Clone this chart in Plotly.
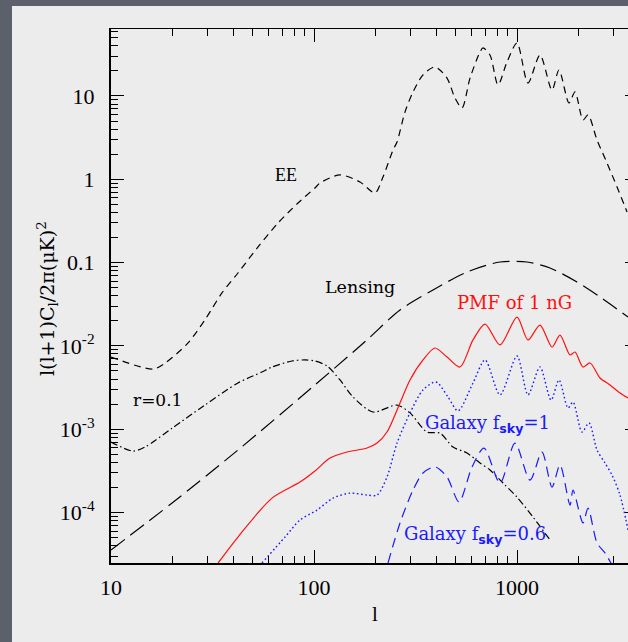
import plotly.graph_objects as go

# ---------------- data ----------------
ee_l = [10, 16.1, 18.5, 23.9, 29.0, 35.2, 42.2, 53.0, 66.5, 83.4, 101.1, 107.1, 134.3, 168.5,
        199.8, 218.7, 245.1, 256.5, 280.8, 307.5, 344.4, 394.5, 452.1, 494.9, 535.9, 586.9,
        657.4, 680.2, 736.2, 806.2, 892.9, 1000, 1133, 1298, 1487, 1610, 1804, 1931, 2115,
        2238, 2479, 2776, 3110, 3484]
ee_c = [7.36e-3, 5.28e-3, 6.24e-3, 1.08e-2, 2.05e-2, 4.32e-2, 7.50e-2, 0.154, 0.299, 0.519,
        0.787, 0.904, 1.127, 0.929, 0.685, 1.067, 2.249, 2.805, 6.43, 11.17, 17.9, 22.3, 16.4,
        9.46, 7.18, 16.4, 33.7, 37.7, 31.0, 13.6, 25.6, 43.3, 14.3, 31.0, 11.8, 20.5, 8.24,
        11.2, 5.15, 5.92, 2.96, 1.57, 0.809, 0.405]

lens_l = [10, 20.0, 42.2, 101.1, 182.4, 265.3, 385.7, 567.2, 824.8, 1120, 1454, 1975, 2565, 3524]
lens_c = [3.55e-5, 1.30e-4, 5.62e-4, 3.40e-3, 1.18e-2, 2.70e-2, 4.69e-2, 7.71e-2, 0.1016,
          0.1016, 0.0861, 0.0585, 0.0386, 0.0222]

bb_l = [10, 12.8, 14.7, 20.0, 29.0, 42.2, 55.4, 62.1, 77.9, 90.3, 101.1, 115.9, 134.3, 155.6,
        195.3, 256.5, 297.2, 360.4, 417.6, 483.8, 567.2, 657.4, 736.2, 853.2, 1000, 1199, 1454]
bb_c = [7.02e-4, 5.47e-4, 6.11e-4, 1.03e-3, 1.95e-3, 3.59e-3, 4.86e-3, 5.58e-3, 6.59e-3,
        6.78e-3, 6.59e-3, 5.74e-3, 3.90e-3, 2.44e-3, 1.61e-3, 1.95e-3, 1.57e-3, 9.25e-4,
        8.99e-4, 6.11e-4, 5.18e-4, 3.93e-4, 3.24e-4, 2.26e-4, 1.53e-4, 8.83e-5, 4.68e-5]

pmf_l = [33.7, 42.2, 62.1, 85.3, 101.1, 119.9, 145.4, 182.4, 204.4, 228.9, 265.3, 297.2, 344.4,
         394.5, 452.1, 523.9, 607.2, 696, 824.8, 1000, 1133, 1298, 1487, 1629, 1825, 1931,
         2115, 2290, 2565, 2873, 3217, 3524]
pmf_c = [2.48e-5, 5.08e-5, 1.49e-4, 2.32e-4, 3.15e-4, 4.51e-4, 5.32e-4, 5.94e-4, 6.82e-4,
         9.25e-4, 2.07e-3, 3.90e-3, 6.78e-3, 9.44e-3, 7.36e-3, 5.58e-3, 1.18e-2, 1.83e-2,
         1.03e-2, 2.22e-2, 1.18e-2, 1.78e-2, 9.70e-3, 1.35e-2, 7.78e-3, 8.45e-3, 5.58e-3,
         6.24e-3, 4.12e-3, 3.40e-3, 2.72e-3, 2.37e-3]

gal1_l = [55.4, 72.0, 85.3, 103.5, 124.1, 150.4, 182.4, 204.4, 228.9, 256.5, 297.2, 344.4,
          399.0, 457.2, 512.1, 607.2, 696, 824.8, 1000, 1133, 1298, 1471, 1610, 1784, 1888,
          2091, 2264, 2479, 2714, 2938, 3217, 3524]
gal1_c = [2.48e-5, 5.08e-5, 8.13e-5, 1.07e-4, 1.49e-4, 1.71e-4, 1.62e-4, 1.62e-4, 2.67e-4,
          6.82e-4, 1.57e-3, 2.96e-3, 3.69e-3, 2.44e-3, 1.66e-3, 3.59e-3, 6.78e-3, 2.58e-3,
          7.57e-3, 2.58e-3, 5.58e-3, 2.24e-3, 3.90e-3, 1.80e-3, 2.12e-3, 9.25e-4, 1.19e-3,
          5.62e-4, 3.93e-4, 2.82e-4, 1.62e-4, 6.17e-5]

gal06_l = [231.5, 265.3, 307.5, 344.4, 394.5, 452.1, 518.0, 600.3, 688, 824.8, 977.5, 1159,
           1328, 1487, 1629, 1825, 1888, 2115, 2238, 2479, 2714, 2938]
gal06_c = [2.48e-5, 7.48e-5, 1.86e-4, 2.98e-4, 3.52e-4, 2.67e-4, 1.34e-4, 3.52e-4, 5.94e-4,
           2.26e-4, 6.82e-4, 2.45e-4, 5.32e-4, 2.02e-4, 3.72e-4, 1.23e-4, 1.86e-4, 7.48e-5,
           1.13e-4, 4.31e-5, 3.27e-5, 2.34e-5]

x_ticks = [10, 100, 1000]
x_ticktext = ["10", "100", "1000"]
y_ticks = [1e-4, 1e-3, 1e-2, 0.1, 1, 10]
y_ticktext = ["10<sup>-4</sup>", "10<sup>-3</sup>", "10<sup>-2</sup>", "0.1", "1", "10"]

x_minor = [m * d for d in (10, 100, 1000) for m in range(2, 10) if m * d < 3600]
y_minor = [m * d for d in (1e-5, 1e-4, 1e-3, 1e-2, 0.1, 1, 10) for m in range(2, 10)
           if 2.5e-5 < m * d < 63]

# ---------------- figure ----------------
SERIF = "Liberation Serif, Times New Roman, serif"
WSERIF = "DejaVu Serif, serif"
BLACK = "#000000"
RED = "#ff1010"
BLUE = "#1a1aff"

fig = go.Figure()

def add_curve(xs, ys, color, dash, width=1.2):
    fig.add_trace(go.Scatter(x=xs, y=ys, mode="lines",
                             line=dict(color=color, dash=dash, width=width,
                                       shape="spline", smoothing=0.8),
                             showlegend=False, hoverinfo="skip"))

add_curve(ee_l, ee_c, BLACK, "7px,5px")
add_curve(lens_l, lens_c, BLACK, "17px,7px")
add_curve(bb_l, bb_c, BLACK, "7px,3px,1.5px,3px")
add_curve(pmf_l, pmf_c, RED, "solid")
add_curve(gal1_l, gal1_c, BLUE, "1.6px,2.6px", width=1.4)
add_curve(gal06_l, gal06_c, BLUE, "10px,6px")

# empty traces so the mirrored (top / right) tick axes get drawn
fig.add_trace(go.Scatter(x=[], y=[], xaxis="x2", yaxis="y", showlegend=False, hoverinfo="skip"))
fig.add_trace(go.Scatter(x=[], y=[], xaxis="x", yaxis="y2", showlegend=False, hoverinfo="skip"))

XR = [1, 3.5468]
YR = [-4.606, 1.804]
tickfont = dict(family=SERIF, size=22, color=BLACK)

fig.update_layout(
    width=628, height=642,
    margin=dict(l=111, r=0, t=29, b=79),
    paper_bgcolor="#5b606b",
    plot_bgcolor="rgba(0,0,0,0)",
    showlegend=False,
    xaxis=dict(type="log", range=XR, showgrid=False, zeroline=False,
               showline=True, linewidth=2, linecolor=BLACK,
               ticks="inside", ticklen=13, tickwidth=1, tickcolor=BLACK,
               tickvals=x_ticks, ticktext=x_ticktext, tickfont=tickfont,
               ticklabelstandoff=4,
               minor=dict(tickvals=x_minor, ticks="inside", ticklen=7,
                          tickwidth=1, tickcolor=BLACK, showgrid=False)),
    xaxis2=dict(type="log", range=XR, overlaying="x", side="top", anchor="y",
                showgrid=False, zeroline=False, showline=True, linewidth=1,
                linecolor=BLACK, ticks="inside", ticklen=13, tickwidth=1,
                tickcolor=BLACK, tickvals=x_ticks, showticklabels=False,
                minor=dict(tickvals=x_minor, ticks="inside", ticklen=7,
                           tickwidth=1, tickcolor=BLACK, showgrid=False)),
    yaxis=dict(type="log", range=YR, showgrid=False, zeroline=False,
               showline=True, linewidth=2, linecolor=BLACK,
               ticks="inside", ticklen=13, tickwidth=1, tickcolor=BLACK,
               tickvals=y_ticks, ticktext=y_ticktext, tickfont=tickfont,
               ticklabelstandoff=10,
               minor=dict(tickvals=y_minor, ticks="inside", ticklen=7,
                          tickwidth=1, tickcolor=BLACK, showgrid=False)),
    yaxis2=dict(type="log", range=YR, overlaying="y", side="right", anchor="x",
                showgrid=False, zeroline=False, showline=False,
                ticks="inside", ticklen=3, tickwidth=1, tickcolor=BLACK,
                tickvals=y_ticks, showticklabels=False),
)

# light slide panel behind the plot
fig.add_shape(type="rect", xref="paper", yref="paper",
              x0=-0.1915, x1=1.05, y0=-0.3, y1=1.0431,
              fillcolor="#ececec", line=dict(width=0), layer="below")

def label(text, x, y, color=BLACK, size=18, family=WSERIF, angle=0):
    fig.add_annotation(text=text, xref="paper", yref="paper", x=x, y=y,
                       xanchor="center", yanchor="middle", showarrow=False,
                       textangle=angle, font=dict(family=family, size=size, color=color))

sub_sky = "<sub><span style='font-family:DejaVu Sans;font-weight:bold'>sky</span></sub>"
label("EE", 0.3385, 0.7266, family=SERIF, size=18)
label("Lensing", 0.4816, 0.5169, size=17.5)
label("PMF of 1 nG", 0.7814, 0.4869, color=RED, size=18)
label("r=0.1", 0.0890, 0.3052, size=17)
label("Galaxy f" + sub_sky + "=1", 0.7273, 0.2600, color=BLUE, size=18)
label("Galaxy f" + sub_sky + "=0.6", 0.7050, 0.0520, color=BLUE, size=18)
label("l", 0.5106, -0.0955, family=SERIF, size=21)
label("l(l+1)C<sub>l</sub>/2π(μK)<sup>2</sup>", -0.1219, 0.4963, size=19, angle=-90)

fig.write_html("out.html")
